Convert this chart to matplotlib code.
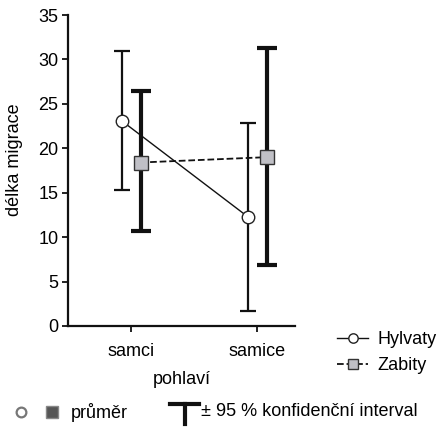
import matplotlib.pyplot as plt
from matplotlib.lines import Line2D
import numpy as np

plt.rcParams["font.family"] = ["Liberation Sans", "DejaVu Sans"]

# data
groups = ["samci", "samice"]
hylvaty_mean = [23.1, 12.3]
hylvaty_low = [15.3, 1.7]
hylvaty_high = [30.9, 22.8]
zabity_mean = [18.4, 19.0]
zabity_low = [10.7, 6.9]
zabity_high = [26.4, 31.3]

x = np.arange(len(groups))
off = 0.075

fig = plt.figure(figsize=(4.39, 4.30), dpi=100)
ax = fig.add_axes([0.155, 0.242, 0.517, 0.723])

h_err = [np.subtract(hylvaty_mean, hylvaty_low), np.subtract(hylvaty_high, hylvaty_mean)]
z_err = [np.subtract(zabity_mean, zabity_low), np.subtract(zabity_high, zabity_mean)]

ax.errorbar(x - off, hylvaty_mean, yerr=h_err, fmt="none", ecolor="#111111",
            elinewidth=1.6, capsize=6, capthick=1.6, zorder=2)
ax.errorbar(x + off, zabity_mean, yerr=z_err, fmt="none", ecolor="#111111",
            elinewidth=3.0, capsize=7, capthick=3.0, zorder=2)

ax.plot(x - off, hylvaty_mean, "-", color="#111111", lw=1.0,
        marker="o", ms=9, mfc="white", mec="#222222", mew=1.0, zorder=3, label="Hylvaty")
ax.plot(x + off, zabity_mean, "--", color="#111111", lw=1.3,
        marker="s", ms=10, mfc="#c0c0c6", mec="#333333", mew=1.0, zorder=3, label="Zabity")

ax.set_xlim(-0.5, 1.30)
ax.set_ylim(0, 35)
ax.set_yticks(range(0, 36, 5))
ax.set_xticks(x)
ax.set_xticklabels(groups)
ax.tick_params(labelsize=13, length=4, width=1.3, color="#111111", pad=3)
ax.tick_params(axis="x", pad=8)
for s in ["top", "right"]:
    ax.spines[s].set_visible(False)
for s in ["left", "bottom"]:
    ax.spines[s].set_linewidth(1.6)
    ax.spines[s].set_color("#111111")

ax.set_ylabel("délka migrace", fontsize=13)
ax.yaxis.set_label_coords(-0.198, 0.534)
ax.set_xlabel("pohlaví", fontsize=13, labelpad=8)

leg = ax.legend(loc="upper left", bbox_to_anchor=(1.186, -0.016), frameon=False, fontsize=13,
                handlelength=1.7, handletextpad=0.55, labelspacing=0.5, borderaxespad=0,
                borderpad=0, markerscale=0.75)

# key under the chart
fig.add_artist(Line2D([21 / 439], [1 - 412 / 430], marker="o", ms=7, mfc="white",
                      mec="#777777", mew=1.6, transform=fig.transFigure))
fig.add_artist(Line2D([52 / 439], [1 - 412 / 430], marker="s", ms=8, mfc="#555555",
                      mec="#888888", mew=1.0, transform=fig.transFigure))
fig.text(71 / 439, 1 - 412 / 430, "průměr", fontsize=13, va="center")
fig.add_artist(Line2D([170 / 439, 199 / 439], [1 - 404 / 430, 1 - 404 / 430],
                      color="#111111", lw=3, transform=fig.transFigure))
fig.add_artist(Line2D([185 / 439, 185 / 439], [1 - 404 / 430, 1 - 424 / 430],
                      color="#111111", lw=3, transform=fig.transFigure))
fig.text(201 / 439, 1 - 412 / 430, "± 95 % konfidenční interval", fontsize=13, va="center")

fig.savefig("out.png", dpi=100)
